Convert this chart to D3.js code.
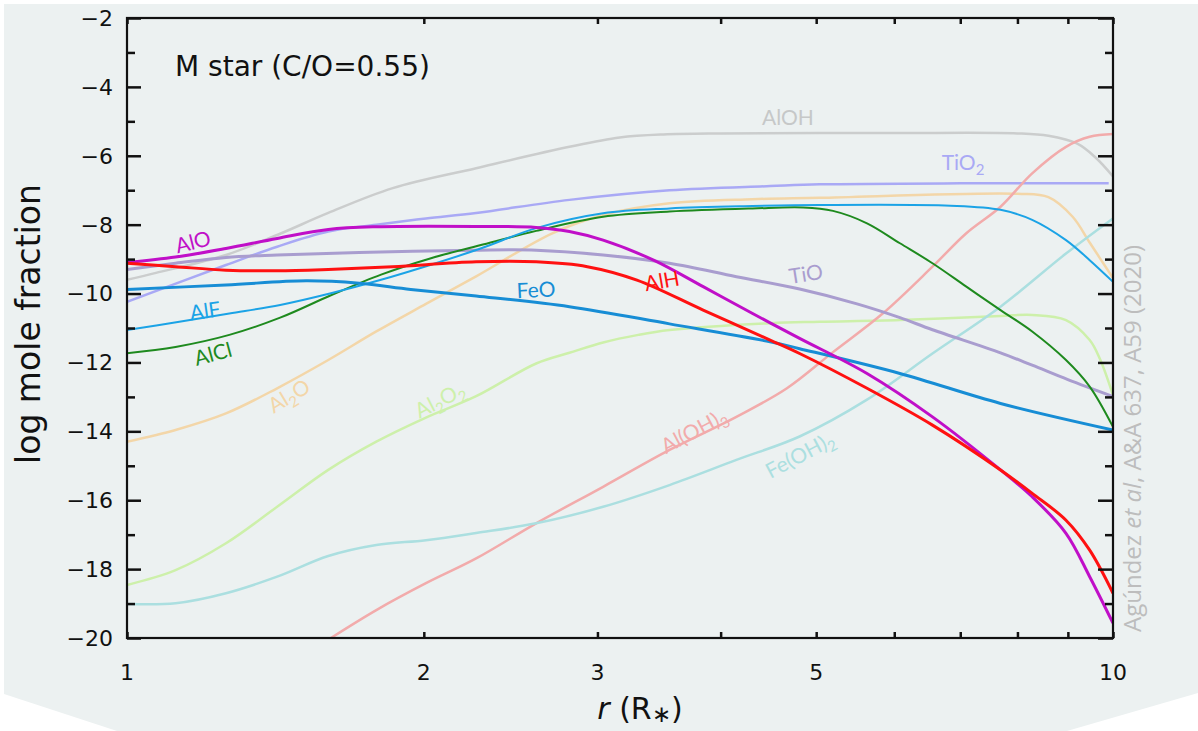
<!DOCTYPE html>
<html lang="en">
<head>
    <meta charset="UTF-8">
    <title>M star mole fractions</title>
    <style>
        body { margin: 0; padding: 0; background: #ffffff; }
        svg { display: block; }
    </style>
    <script src="https://d3js.org/d3.v7.min.js"></script>
</head>
<body>
    <script>
        // values: [r (R*), log mole fraction]
        const AlOH = [[1,-9.6],[1.07,-9.4],[1.26,-8.88],[1.42,-8.3],[1.6,-7.66],[1.86,-6.94],[2.26,-6.36],[2.81,-5.74],[3.16,-5.47],[3.5,-5.38],[4,-5.35],[6,-5.34],[8,-5.35],[8.6,-5.42],[9.2,-5.65],[9.6,-6.05],[10,-6.6]];
        const TiO2 = [[1,-10.24],[1.26,-9.17],[1.42,-8.64],[1.6,-8.2],[1.79,-8.0],[2.01,-7.82],[2.26,-7.66],[2.81,-7.28],[3.55,-7.0],[4.49,-6.88],[5.04,-6.83],[7,-6.8],[9.9,-6.8]];
        const Al2O = [[1,-14.3],[1.12,-13.96],[1.26,-13.48],[1.42,-12.75],[1.6,-11.93],[1.79,-11.1],[2.01,-10.3],[2.26,-9.5],[2.7,-8.25],[3.04,-7.72],[3.55,-7.38],[4.31,-7.26],[5.04,-7.22],[8,-7.1],[8.6,-7.2],[9.1,-7.77],[9.48,-8.54],[10,-9.55]];
        const AlCl = [[1,-11.73],[1.12,-11.55],[1.27,-11.2],[1.43,-10.7],[1.61,-10.05],[1.81,-9.45],[2.03,-8.98],[2.28,-8.6],[2.6,-8.18],[3.04,-7.77],[3.55,-7.62],[4.31,-7.53],[4.85,-7.5],[5.2,-7.6],[5.63,-7.96],[6.08,-8.54],[6.56,-9.12],[7.1,-9.8],[7.69,-10.48],[8.28,-11.1],[8.96,-11.93],[9.47,-12.7],[10,-13.87]];
        const AlF = [[1,-11.06],[1.13,-10.82],[1.27,-10.58],[1.43,-10.33],[1.61,-9.99],[1.81,-9.6],[2.03,-9.17],[2.28,-8.7],[2.6,-8.1],[3.04,-7.67],[3.55,-7.53],[4.31,-7.46],[5.04,-7.43],[6.84,-7.45],[7.69,-7.57],[8.28,-7.86],[8.96,-8.45],[9.47,-9.03],[10,-9.66]];
        const FeO = [[1,-9.88],[1.26,-9.75],[1.52,-9.63],[1.72,-9.7],[1.94,-9.88],[2.26,-10.07],[2.81,-10.38],[3.55,-10.88],[4.49,-11.4],[4.81,-11.6],[6.08,-12.32],[7.69,-13.19],[10,-13.96]];
        const AlO = [[1,-9.1],[1.12,-8.94],[1.26,-8.69],[1.42,-8.4],[1.6,-8.14],[1.79,-8.06],[2.26,-8.05],[2.6,-8.08],[2.81,-8.2],[3.04,-8.45],[3.42,-9.03],[3.84,-9.8],[4.31,-10.58],[4.81,-11.3],[5.63,-12.32],[6.56,-13.58],[7.69,-15.12],[8.28,-15.9],[8.96,-16.96],[9.47,-18.22],[10,-19.57]];
        const AlH = [[1,-9.12],[1.12,-9.22],[1.26,-9.32],[1.42,-9.34],[1.6,-9.3],[1.86,-9.22],[2.26,-9.08],[2.6,-9.08],[2.93,-9.22],[3.29,-9.61],[3.84,-10.48],[4.49,-11.35],[4.81,-11.74],[5.63,-12.75],[6.56,-13.82],[7.69,-15.12],[8.28,-15.8],[8.96,-16.58],[9.47,-17.45],[10,-18.7]];
        const TiO = [[1,-9.3],[1.12,-9.12],[1.26,-8.95],[1.42,-8.88],[1.72,-8.81],[2.26,-8.74],[2.6,-8.74],[3.04,-8.88],[3.55,-9.12],[4.15,-9.51],[4.81,-9.87],[5.5,-10.3],[6.08,-10.7],[6.56,-11.05],[7.69,-11.72],[8.28,-12.08],[9.0,-12.5],[10,-12.99]];
        const Al2O2 = [[1,-18.46],[1.12,-18.03],[1.26,-17.25],[1.42,-16.19],[1.6,-15.12],[1.79,-14.3],[2.01,-13.6],[2.26,-12.98],[2.6,-12.03],[2.81,-11.72],[3.04,-11.42],[3.3,-11.2],[3.55,-11.06],[4.49,-10.86],[5.04,-10.82],[6.08,-10.77],[7.69,-10.65],[8.28,-10.62],[8.96,-10.77],[9.47,-11.35],[9.7,-11.9],[10,-12.95]];
        const AlOH3 = [[1.61,-20],[1.79,-19.19],[2.01,-18.41],[2.26,-17.69],[2.6,-16.67],[3.04,-15.61],[3.55,-14.54],[4.15,-13.58],[4.67,-12.75],[5.2,-11.7],[5.84,-10.58],[6.56,-9.22],[7.1,-8.25],[7.69,-7.48],[8.28,-6.51],[8.96,-5.74],[9.47,-5.45],[10,-5.37]];
        const FeOH2 = [[1,-19.01],[1.12,-18.99],[1.26,-18.7],[1.42,-18.22],[1.6,-17.62],[1.79,-17.3],[2.01,-17.16],[2.26,-16.95],[2.6,-16.67],[3.04,-16.19],[3.55,-15.56],[4.15,-14.83],[4.81,-14.15],[5.63,-13.08],[6.56,-11.74],[7.69,-10.38],[8.96,-8.84],[10,-7.82]];

        const xTickLabels = [1, 2, 3, 5, 10];
        const xTicksAll = [1, 2, 3, 4, 5, 6, 7, 8, 9, 10];
        const yMajor = [-20, -18, -16, -14, -12, -10, -8, -6, -4, -2];
        const yMinor = [-19, -17, -15, -13, -11, -9, -7, -5, -3];

        const series = [
            { data: AlOH, color: "#cbcdcd", w: 2.5 },
            { data: TiO2, color: "#a9a9f5", w: 2.5 },
            { data: Al2O, color: "#f3d6a8", w: 2.5 },
            { data: Al2O2, color: "#cdf0aa", w: 2.5 },
            { data: AlOH3, color: "#f2abab", w: 2.5 },
            { data: FeOH2, color: "#abdfe0", w: 2.5 },
            { data: TiO, color: "#a99dcf", w: 3 },
            { data: AlCl, color: "#1e8a1e", w: 2 },
            { data: AlF, color: "#1ba3e6", w: 2 },
            { data: FeO, color: "#178dd5", w: 3 },
            { data: AlO, color: "#c00fc8", w: 3 },
            { data: AlH, color: "#ff1111", w: 3 }
        ];

        // label text parts: [text, isSubscript]
        const labels = [
            { parts: [["AlOH", 0]], color: "#c6c8c8", x: 788, y: 118, rot: 0 },
            { parts: [["TiO", 0], ["2", 1]], color: "#a9a9f5", x: 963, y: 163, rot: 0 },
            { parts: [["AlO", 0]], color: "#c00fc8", x: 193, y: 242, rot: -14 },
            { parts: [["AlF", 0]], color: "#1ba3e6", x: 205, y: 311, rot: -8 },
            { parts: [["AlCl", 0]], color: "#1e8a1e", x: 213, y: 354, rot: -15 },
            { parts: [["Al", 0], ["2", 1], ["O", 0]], color: "#f3d6a8", x: 289, y: 396, rot: -31 },
            { parts: [["Al", 0], ["2", 1], ["O", 0], ["2", 1]], color: "#cdf0aa", x: 440, y: 400, rot: -27 },
            { parts: [["FeO", 0]], color: "#178dd5", x: 536, y: 290, rot: -3 },
            { parts: [["AlH", 0]], color: "#ff1111", x: 662, y: 281, rot: -10 },
            { parts: [["TiO", 0]], color: "#a99dcf", x: 806, y: 274, rot: -9 },
            { parts: [["Al(OH)", 0], ["3", 1]], color: "#f2abab", x: 694, y: 431, rot: -28 },
            { parts: [["Fe(OH)", 0], ["2", 1]], color: "#abdfe0", x: 800, y: 455, rot: -28 }
        ];

        const width = 1198;
        const height = 731;
        const mLeft = 127, mRight = 1113, mTop = 18, mBottom = 638;

        const svg = d3.select("body").append("svg")
            .attr("width", width)
            .attr("height", height);

        // light background panel with cut bottom corners
        svg.append("polygon")
            .attr("points", [[4,4],[1198,4],[1198,693],[1067,731],[117,731],[4,694]].map(p => p.join(",")).join(" "))
            .attr("fill", "#ecf1f1");

        const x = d3.scaleLog().domain([1, 10]).range([mLeft, mRight]);
        const y = d3.scaleLinear().domain([-20, -2]).range([mBottom, mTop]);

        svg.append("clipPath").attr("id", "clip")
            .append("rect")
            .attr("x", mLeft).attr("y", mTop)
            .attr("width", mRight - mLeft).attr("height", mBottom - mTop);

        const line = d3.line()
            .x(d => x(d[0]))
            .y(d => y(d[1]))
            .curve(d3.curveCatmullRom.alpha(0.5));

        svg.append("g").attr("clip-path", "url(#clip)")
            .selectAll("path")
            .data(series)
            .enter().append("path")
            .attr("d", d => line(d.data))
            .attr("fill", "none")
            .attr("stroke", d => d.color)
            .attr("stroke-width", d => d.w)
            .attr("stroke-linejoin", "round");

        // axes: ticks pointing inward on all four sides
        const axisColor = "#111111";
        const tickFont = "DejaVu Sans, sans-serif";

        svg.append("g").attr("transform", `translate(${mLeft},0)`)
            .call(d3.axisRight(y).tickValues(yMajor).tickSize(14).tickFormat(""));
        svg.append("g").attr("transform", `translate(${mLeft},0)`)
            .call(d3.axisRight(y).tickValues(yMinor).tickSize(8).tickFormat(""));
        svg.append("g").attr("transform", `translate(${mRight},0)`)
            .call(d3.axisLeft(y).tickValues(yMajor).tickSize(15).tickFormat(""));
        svg.append("g").attr("transform", `translate(${mRight},0)`)
            .call(d3.axisLeft(y).tickValues(yMinor).tickSize(8).tickFormat(""));
        svg.append("g").attr("transform", `translate(0,${mBottom})`)
            .call(d3.axisTop(x).tickValues(xTicksAll).tickSize(6).tickFormat(""));
        svg.append("g").attr("transform", `translate(0,${mTop})`)
            .call(d3.axisBottom(x).tickValues(xTicksAll).tickSize(6).tickFormat(""));

        svg.selectAll(".domain").remove();
        svg.selectAll(".tick line").attr("stroke", axisColor).attr("stroke-width", 2.5);

        svg.append("rect")
            .attr("x", mLeft).attr("y", mTop)
            .attr("width", mRight - mLeft).attr("height", mBottom - mTop)
            .attr("fill", "none")
            .attr("stroke", axisColor)
            .attr("stroke-width", 2.2);

        // tick labels
        svg.append("g").selectAll("text")
            .data(yMajor)
            .enter().append("text")
            .attr("x", 113)
            .attr("y", d => y(d))
            .attr("dy", "0.36em")
            .attr("text-anchor", "end")
            .style("font-family", tickFont)
            .style("font-size", "22px")
            .attr("fill", "#111")
            .text(d => "\u2212" + Math.abs(d));

        svg.append("g").selectAll("text")
            .data(xTickLabels)
            .enter().append("text")
            .attr("x", d => x(d))
            .attr("y", 680)
            .attr("text-anchor", "middle")
            .style("font-family", tickFont)
            .style("font-size", "22px")
            .attr("fill", "#111")
            .text(d => d);

        // axis titles
        svg.append("text")
            .attr("transform", "translate(40,324) rotate(-90)")
            .attr("text-anchor", "middle")
            .style("font-family", tickFont)
            .style("font-size", "33px")
            .attr("fill", "#111")
            .text("log mole fraction");

        const xt = svg.append("text")
            .attr("x", 640).attr("y", 719)
            .attr("text-anchor", "middle")
            .style("font-family", tickFont)
            .style("font-size", "30px")
            .attr("fill", "#111");
        xt.append("tspan").style("font-style", "italic").text("r");
        xt.append("tspan").text(" (R");
        xt.append("tspan").attr("dy", 3).style("font-size", "23px").text("\u2217");
        xt.append("tspan").attr("dy", -3).text(")");

        svg.append("text")
            .attr("x", 175).attr("y", 76)
            .style("font-family", tickFont)
            .style("font-size", "28px")
            .attr("fill", "#111")
            .text("M star (C/O=0.55)");

        // credit
        const cr = svg.append("text")
            .attr("transform", "translate(1141,632) rotate(-90)")
            .attr("text-anchor", "start")
            .style("font-family", "Open Sans, sans-serif")
            .style("font-size", "24px")
            .attr("fill", "#bdbdbd");
        cr.append("tspan").text("Agúndez ");
        cr.append("tspan").style("font-style", "italic").text("et al");
        cr.append("tspan").text(", A&A 637, A59 (2020)");

        // curve labels
        labels.forEach(l => {
            const t = svg.append("text")
                .attr("transform", `translate(${l.x},${l.y}) rotate(${l.rot})`)
                .attr("text-anchor", "middle")
                .attr("dy", "0.35em")
                .style("font-family", "Lato, sans-serif")
                .style("font-size", "21px")
                .attr("fill", l.color);
            let shifted = false;
            l.parts.forEach(p => {
                const ts = t.append("tspan").text(p[0]);
                if (p[1]) {
                    ts.attr("dy", shifted ? 0 : 5).style("font-size", "15px");
                    shifted = true;
                } else if (shifted) {
                    ts.attr("dy", -5);
                    shifted = false;
                }
            });
        });
    </script>
</body>
</html>
